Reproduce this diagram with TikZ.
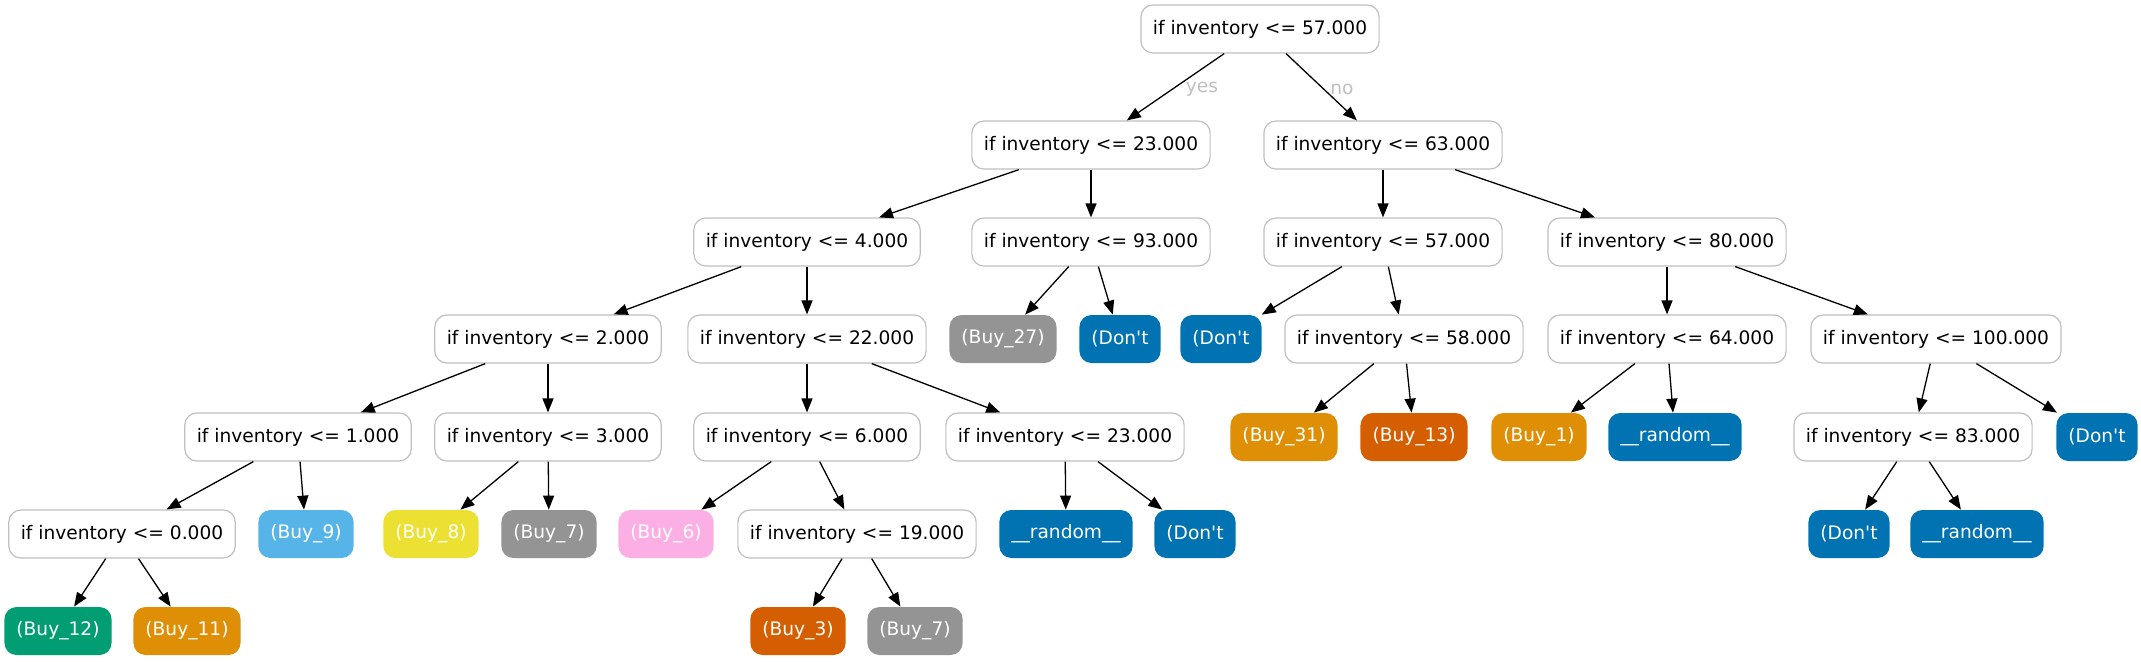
\documentclass[tikz,border=0pt]{standalone}
\usepackage{fontspec}
\newfontfamily\dejavu{DejaVu Sans}
\usetikzlibrary{arrows.meta}
\definecolor{boxgray}{HTML}{C0C0C0}
\definecolor{cbblue}{HTML}{0173B2}
\definecolor{cborange}{HTML}{DE8F05}
\definecolor{cbgreen}{HTML}{029E73}
\definecolor{cbred}{HTML}{D55E00}
\definecolor{cbpink}{HTML}{FBAFE4}
\definecolor{cbgray}{HTML}{949494}
\definecolor{cbyellow}{HTML}{ECE133}
\definecolor{cbsky}{HTML}{56B4E9}
\tikzstyle{test}=[rectangle, rounded corners=6pt, draw=boxgray, fill=white, line width=0.6pt, minimum height=24pt, inner xsep=6pt, font=\dejavu\fontsize{9.3}{11}\selectfont]
\tikzstyle{leaf}=[rectangle, rounded corners=6pt, text=white, minimum height=24pt, inner xsep=6pt, font=\dejavu\fontsize{9.3}{11}\selectfont]
\tikzstyle{pre}=[{Triangle[length=7pt,width=5.5pt]}-, line width=0.65pt]
\tikzstyle{ans}=[text=boxgray, font=\dejavu\fontsize{9.3}{11}\selectfont]

\begin{document}
\begin{tikzpicture}[x=0.5pt, y=-0.5pt]
        \useasboundingbox (0,0) rectangle (2141,661);
        \node[test] (root) at (1260,29) {if inventory <= 57.000};

        \node[test] (n23) at (1091,145) {if inventory <= 23.000}
              edge [pre] (root);
        \node[test] (n63) at (1383,145) {if inventory <= 63.000}
              edge [pre] (root);
        \node[ans] (yes) at (1202,89) {yes};
        \node[ans] (no) at (1342,89) {no};

        \node[test] (n4) at (807,242) {if inventory <= 4.000}
              edge [pre] (n23);
        \node[test] (n93) at (1091,242) {if inventory <= 93.000}
              edge [pre] (n23);
        \node[test] (n57) at (1383,242) {if inventory <= 57.000}
              edge [pre] (n63);
        \node[test] (n80) at (1667,242) {if inventory <= 80.000}
              edge [pre] (n63);

        \node[test] (n2) at (548,339) {if inventory <= 2.000}
              edge [pre] (n4);
        \node[test] (n22) at (807,339) {if inventory <= 22.000}
              edge [pre] (n4);
        \node[leaf, fill=cbgray] (buy27) at (1003,339) {(Buy\_27)}
              edge [pre] (n93);
        \node[leaf, fill=cbblue] (dont1) at (1120,339) {(Don't}
              edge [pre] (n93);
        \node[leaf, fill=cbblue] (dont2) at (1221,339) {(Don't}
              edge [pre] (n57);
        \node[test] (n58) at (1404,339) {if inventory <= 58.000}
              edge [pre] (n57);
        \node[test] (n64) at (1667,339) {if inventory <= 64.000}
              edge [pre] (n80);
        \node[test] (n100) at (1936,339) {if inventory <= 100.000}
              edge [pre] (n80);

        \node[test] (n1) at (298,437) {if inventory <= 1.000}
              edge [pre] (n2);
        \node[test] (n3) at (548,437) {if inventory <= 3.000}
              edge [pre] (n2);
        \node[test] (n6) at (807,437) {if inventory <= 6.000}
              edge [pre] (n22);
        \node[test] (n23b) at (1065,437) {if inventory <= 23.000}
              edge [pre] (n22);
        \node[leaf, fill=cborange] (buy31) at (1284,437) {(Buy\_31)}
              edge [pre] (n58);
        \node[leaf, fill=cbred] (buy13) at (1414,437) {(Buy\_13)}
              edge [pre] (n58);
        \node[leaf, fill=cborange] (buy1) at (1539,437) {(Buy\_1)}
              edge [pre] (n64);
        \node[leaf, fill=cbblue] (rand1) at (1675,437) {\_\_random\_\_}
              edge [pre] (n64);
        \node[test] (n83) at (1913,437) {if inventory <= 83.000}
              edge [pre] (n100);
        \node[leaf, fill=cbblue] (dont3) at (2097,437) {(Don't}
              edge [pre] (n100);

        \node[test] (n0) at (122,534) {if inventory <= 0.000}
              edge [pre] (n1);
        \node[leaf, fill=cbsky] (buy9) at (306,534) {(Buy\_9)}
              edge [pre] (n1);
        \node[leaf, fill=cbyellow] (buy8) at (431,534) {(Buy\_8)}
              edge [pre] (n3);
        \node[leaf, fill=cbgray] (buy7a) at (549,534) {(Buy\_7)}
              edge [pre] (n3);
        \node[leaf, fill=cbpink] (buy6) at (666,534) {(Buy\_6)}
              edge [pre] (n6);
        \node[test] (n19) at (857,534) {if inventory <= 19.000}
              edge [pre] (n6);
        \node[leaf, fill=cbblue] (rand2) at (1066,534) {\_\_random\_\_}
              edge [pre] (n23b);
        \node[leaf, fill=cbblue] (dont4) at (1195,534) {(Don't}
              edge [pre] (n23b);
        \node[leaf, fill=cbblue] (dont5) at (1849,534) {(Don't}
              edge [pre] (n83);
        \node[leaf, fill=cbblue] (rand3) at (1977,534) {\_\_random\_\_}
              edge [pre] (n83);

        \node[leaf, fill=cbgreen] (buy12) at (58,631) {(Buy\_12)}
              edge [pre] (n0);
        \node[leaf, fill=cborange] (buy11) at (187,631) {(Buy\_11)}
              edge [pre] (n0);
        \node[leaf, fill=cbred] (buy3) at (798,631) {(Buy\_3)}
              edge [pre] (n19);
        \node[leaf, fill=cbgray] (buy7b) at (915,631) {(Buy\_7)}
              edge [pre] (n19);
\end{tikzpicture}
\end{document}
